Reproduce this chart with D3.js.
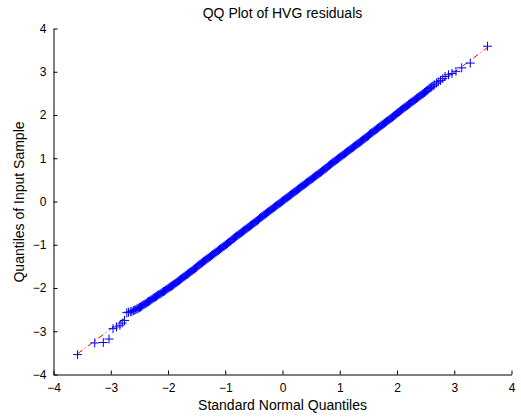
<!DOCTYPE html>
<html>
<head>
<meta charset="utf-8">
<script src="https://cdn.jsdelivr.net/npm/d3@7"></script>
<style>
  html, body { margin: 0; padding: 0; background: #fff; }
  svg { display: block; font-family: "Liberation Sans", Arial, Helvetica, sans-serif; }
</style>
</head>
<body>
<svg id="chart" width="521" height="419"></svg>
<script>
// Lower tail: theoretical normal quantiles and ordered residuals
const lowTailX = [-3.58, -3.28, -3.13, -3.03, -2.96, -2.90, -2.84, -2.80, -2.76, -2.72, -2.69, -2.65, -2.63, -2.60];
const lowTailY = [-3.54, -3.27, -3.26, -3.18, -2.94, -2.90, -2.86, -2.81, -2.75, -2.57, -2.56, -2.55, -2.54, -2.52];

// Body of the distribution
const bodyX = [
  -2.58, -2.56, -2.54, -2.52, -2.50, -2.48, -2.46, -2.44, -2.42, -2.40,
  -2.38, -2.36, -2.34, -2.32, -2.30, -2.28, -2.26, -2.24, -2.22, -2.20,
  -2.18, -2.16, -2.14, -2.12, -2.10, -2.08, -2.06, -2.04, -2.02, -2.00,
  -1.98, -1.96, -1.94, -1.92, -1.90, -1.88, -1.86, -1.84, -1.82, -1.80,
  -1.78, -1.76, -1.74, -1.72, -1.70, -1.68, -1.66, -1.64, -1.62, -1.60,
  -1.58, -1.56, -1.54, -1.52, -1.50, -1.48, -1.46, -1.44, -1.42, -1.40,
  -1.38, -1.36, -1.34, -1.32, -1.30, -1.28, -1.26, -1.24, -1.22, -1.20,
  -1.18, -1.16, -1.14, -1.12, -1.10, -1.08, -1.06, -1.04, -1.02, -1.00,
  -0.98, -0.96, -0.94, -0.92, -0.90, -0.88, -0.86, -0.84, -0.82, -0.80,
  -0.78, -0.76, -0.74, -0.72, -0.70, -0.68, -0.66, -0.64, -0.62, -0.60,
  -0.58, -0.56, -0.54, -0.52, -0.50, -0.48, -0.46, -0.44, -0.42, -0.40,
  -0.38, -0.36, -0.34, -0.32, -0.30, -0.28, -0.26, -0.24, -0.22, -0.20,
  -0.18, -0.16, -0.14, -0.12, -0.10, -0.08, -0.06, -0.04, -0.02, 0.00,
  0.02, 0.04, 0.06, 0.08, 0.10, 0.12, 0.14, 0.16, 0.18, 0.20,
  0.22, 0.24, 0.26, 0.28, 0.30, 0.32, 0.34, 0.36, 0.38, 0.40,
  0.42, 0.44, 0.46, 0.48, 0.50, 0.52, 0.54, 0.56, 0.58, 0.60,
  0.62, 0.64, 0.66, 0.68, 0.70, 0.72, 0.74, 0.76, 0.78, 0.80,
  0.82, 0.84, 0.86, 0.88, 0.90, 0.92, 0.94, 0.96, 0.98, 1.00,
  1.02, 1.04, 1.06, 1.08, 1.10, 1.12, 1.14, 1.16, 1.18, 1.20,
  1.22, 1.24, 1.26, 1.28, 1.30, 1.32, 1.34, 1.36, 1.38, 1.40,
  1.42, 1.44, 1.46, 1.48, 1.50, 1.52, 1.54, 1.56, 1.58, 1.60,
  1.62, 1.64, 1.66, 1.68, 1.70, 1.72, 1.74, 1.76, 1.78, 1.80,
  1.82, 1.84, 1.86, 1.88, 1.90, 1.92, 1.94, 1.96, 1.98, 2.00,
  2.02, 2.04, 2.06, 2.08, 2.10, 2.12, 2.14, 2.16, 2.18, 2.20,
  2.22, 2.24, 2.26, 2.28, 2.30, 2.32, 2.34, 2.36, 2.38, 2.40,
  2.42, 2.44, 2.46, 2.48, 2.50, 2.52, 2.54, 2.56, 2.58
];
const bodyY = [
  -2.51, -2.50, -2.48, -2.47, -2.45, -2.44, -2.42, -2.40, -2.38, -2.37,
  -2.35, -2.33, -2.31, -2.30, -2.28, -2.26, -2.24, -2.22, -2.21, -2.19,
  -2.17, -2.15, -2.14, -2.12, -2.10, -2.08, -2.07, -2.05, -2.03, -2.01,
  -1.99, -1.97, -1.96, -1.94, -1.92, -1.90, -1.88, -1.86, -1.84, -1.82,
  -1.80, -1.78, -1.76, -1.74, -1.72, -1.70, -1.68, -1.66, -1.64, -1.62,
  -1.60, -1.58, -1.56, -1.54, -1.52, -1.49, -1.47, -1.45, -1.43, -1.41,
  -1.39, -1.37, -1.35, -1.33, -1.31, -1.29, -1.27, -1.25, -1.23, -1.21,
  -1.19, -1.17, -1.15, -1.13, -1.11, -1.09, -1.07, -1.05, -1.03, -1.01,
  -0.99, -0.97, -0.95, -0.93, -0.91, -0.88, -0.86, -0.84, -0.82, -0.80,
  -0.78, -0.76, -0.74, -0.72, -0.70, -0.68, -0.66, -0.64, -0.62, -0.60,
  -0.58, -0.56, -0.54, -0.52, -0.50, -0.48, -0.46, -0.44, -0.42, -0.39,
  -0.37, -0.35, -0.33, -0.31, -0.29, -0.27, -0.25, -0.23, -0.21, -0.19,
  -0.17, -0.15, -0.13, -0.11, -0.09, -0.07, -0.05, -0.03, -0.01, 0.01,
  0.03, 0.05, 0.07, 0.09, 0.11, 0.13, 0.15, 0.17, 0.19, 0.21,
  0.23, 0.25, 0.27, 0.29, 0.31, 0.33, 0.35, 0.37, 0.39, 0.41,
  0.43, 0.45, 0.47, 0.49, 0.51, 0.53, 0.55, 0.57, 0.59, 0.61,
  0.63, 0.65, 0.67, 0.69, 0.71, 0.73, 0.75, 0.77, 0.79, 0.82,
  0.84, 0.86, 0.88, 0.90, 0.92, 0.94, 0.96, 0.98, 1.00, 1.02,
  1.04, 1.06, 1.08, 1.10, 1.12, 1.14, 1.16, 1.18, 1.20, 1.22,
  1.24, 1.26, 1.28, 1.30, 1.32, 1.34, 1.36, 1.38, 1.40, 1.42,
  1.44, 1.46, 1.48, 1.50, 1.52, 1.55, 1.57, 1.59, 1.61, 1.63,
  1.65, 1.67, 1.69, 1.71, 1.73, 1.75, 1.77, 1.79, 1.81, 1.83,
  1.85, 1.87, 1.89, 1.91, 1.93, 1.95, 1.97, 1.99, 2.01, 2.04,
  2.06, 2.08, 2.10, 2.12, 2.14, 2.16, 2.18, 2.20, 2.22, 2.24,
  2.26, 2.28, 2.30, 2.32, 2.34, 2.36, 2.38, 2.40, 2.42, 2.44,
  2.46, 2.48, 2.50, 2.52, 2.54, 2.56, 2.58, 2.61, 2.63
];

// Upper tail
const highTailX = [2.60, 2.63, 2.65, 2.69, 2.72, 2.76, 2.80, 2.84, 2.90, 2.96, 3.03, 3.13, 3.28, 3.58];
const highTailY = [2.65, 2.67, 2.70, 2.74, 2.77, 2.80, 2.84, 2.89, 2.93, 2.96, 3.01, 3.09, 3.20, 3.59];

// Reference line through the quartiles, extended over the sample range
const refLineX = [-3.58, 3.58];
const refLineY = [-3.52, 3.56];

const axisTicks = [-4, -3, -2, -1, 0, 1, 2, 3, 4];
const titleText = "QQ Plot of HVG residuals";
const xLabelText = "Standard Normal Quantiles";
const yLabelText = "Quantiles of Input Sample";

const svg = d3.select("#chart");

const x = d3.scaleLinear().domain([-4, 4]).range([53.5, 511.5]);
const y = d3.scaleLinear().domain([-4, 4]).range([374.5, 28.5]);

const fmt = d => (d < 0 ? "\u2212" + Math.abs(d) : String(d));

// Reference line (dash-dot, red)
svg.append("line")
  .attr("x1", x(refLineX[0])).attr("y1", y(refLineY[0]))
  .attr("x2", x(refLineX[1])).attr("y2", y(refLineY[1]))
  .attr("stroke", "#ff0000")
  .attr("stroke-width", 1)
  .attr("stroke-dasharray", "6,3,1,3");

// Sample points as '+' markers
const points = [];
lowTailX.forEach((v, i) => points.push([v, lowTailY[i]]));
bodyX.forEach((v, i) => points.push([v, bodyY[i]]));
highTailX.forEach((v, i) => points.push([v, highTailY[i]]));

svg.append("g")
  .selectAll("path")
  .data(points)
  .join("path")
  .attr("transform", d => `translate(${x(d[0])},${y(d[1])})`)
  .attr("d", "M-4.5,0H4.5M0,-4.5V4.5")
  .attr("stroke", "#0000ff")
  .attr("stroke-width", 1)
  .attr("fill", "none");

// Axes with inward ticks
const xAxis = d3.axisBottom(x).tickValues(axisTicks).tickFormat(fmt)
  .tickSizeInner(-4).tickSizeOuter(0).tickPadding(9);
const yAxis = d3.axisLeft(y).tickValues(axisTicks).tickFormat(fmt)
  .tickSizeInner(-4).tickSizeOuter(0).tickPadding(7);

const gx = svg.append("g").attr("transform", "translate(0,374.5)").call(xAxis);
const gy = svg.append("g").attr("transform", "translate(53.5,0)").call(yAxis);

[gx, gy].forEach(g => {
  g.selectAll("path.domain").attr("stroke", "#000").attr("stroke-width", 1);
  g.selectAll(".tick line").attr("stroke", "#000").attr("stroke-width", 1);
  g.selectAll(".tick text")
    .attr("fill", "#000")
    .style("font-family", "'Liberation Sans', Arial, Helvetica, sans-serif")
    .style("font-size", "12px");
});

// Title and axis labels
svg.append("text")
  .attr("x", 282.5).attr("y", 18)
  .attr("text-anchor", "middle")
  .style("font-size", "14px")
  .attr("fill", "#000")
  .text(titleText);

svg.append("text")
  .attr("x", 282.5).attr("y", 410)
  .attr("text-anchor", "middle")
  .style("font-size", "14px")
  .attr("fill", "#000")
  .text(xLabelText);

svg.append("text")
  .attr("transform", "translate(24,202) rotate(-90)")
  .attr("text-anchor", "middle")
  .style("font-size", "14px")
  .attr("fill", "#000")
  .text(yLabelText);
</script>
</body>
</html>
